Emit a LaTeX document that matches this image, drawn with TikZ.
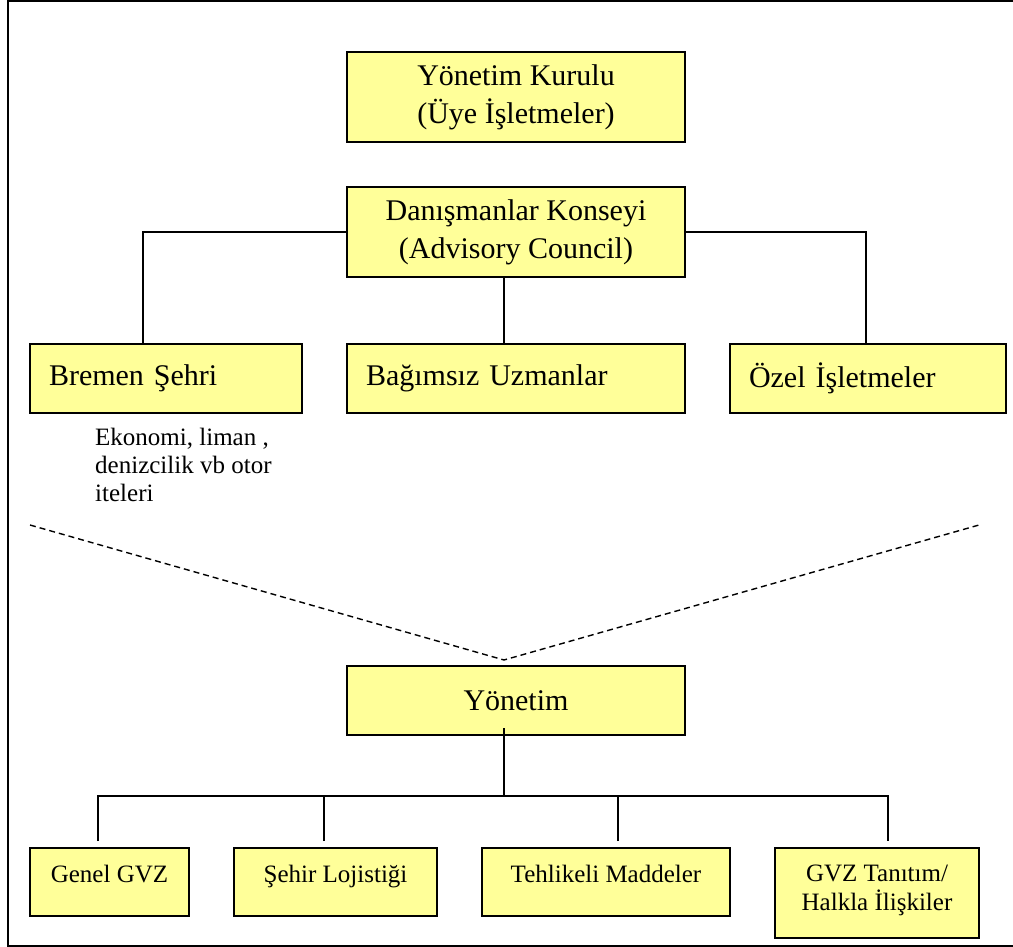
\documentclass[tikz,border=0pt]{standalone}
\usepackage{fontspec}
\setmainfont{Liberation Serif}
\usetikzlibrary{calc}
\definecolor{boxfill}{RGB}{255,255,153}
\begin{document}
\begin{tikzpicture}[x=1pt,y=-1pt,
  box/.style={draw, line width=2.2pt, fill=boxfill, anchor=north west, inner sep=0pt, outer sep=0pt},
  big/.style={font=\fontsize{30}{38}\selectfont},
  small/.style={font=\fontsize{25}{29}\selectfont},
  caption/.style={anchor=north, inner sep=0pt, align=center, small},
  wire/.style={line width=1.4pt},
]
\useasboundingbox (0,0) rectangle (1013,947);

% outer frame
\draw[line width=1.6pt] (1013,1) -- (8,1) -- (8,946) -- (1013,946);

% upper level
\node[box, big, align=center, minimum width=338pt, minimum height=90pt] (kurul) at (347,52) {Yönetim Kurulu\\(Üye İşletmeler)};
\node[box, big, align=center, minimum width=338pt, minimum height=90pt] (konsey) at (347,187) {Danışmanlar Konseyi\\(Advisory Council)};

\node[box, big, align=left, text width=234pt, inner xsep=19pt, minimum height=69pt] (bremen) at (30,344) {Bremen Şehri};
\node[box, big, align=left, text width=300pt, inner xsep=19pt, minimum height=69pt] (uzman) at (347,344) {Bağımsız Uzmanlar};
\node[box, big, align=left, text width=238pt, inner xsep=19pt, minimum height=69pt] (ozel) at (730,344) {Özel İşletmeler};

\node[anchor=north west, inner sep=0pt, align=left, font=\fontsize{25}{28}\selectfont] (note) at (95,428) {Ekonomi, liman ,\\denizcilik vb otor\\iteleri};

\coordinate (lx) at (143,0);
\coordinate (rx) at (866,0);
\coordinate (mx) at (504,0);
\draw[wire] (konsey.west) -| (bremen.north -| lx);
\draw[wire] (konsey.east) -| (ozel.north -| rx);
\draw[wire] (konsey.south -| mx) -- (uzman.north -| mx);

% dashed funnel
\coordinate (vl) at (30,525);
\coordinate (vtip) at (504,660);
\coordinate (vr) at (979,525);
\draw[wire, dash pattern=on 6pt off 4pt] (vl) -- (vtip) -- (vr);

% management level
\node[box, big, minimum width=338pt, minimum height=69pt] (yon) at (347,666) {Yönetim};

\node[box, minimum width=159pt, minimum height=68pt] (genel) at (30,848) {};
\node[caption] (genelT) at ($(genel.north)+(0,17)$) {Genel GVZ};
\node[box, minimum width=203pt, minimum height=68pt] (sehir) at (234,848) {};
\node[caption] (sehirT) at ($(sehir.north)+(0,17)$) {Şehir Lojistiği};
\node[box, minimum width=248pt, minimum height=68pt] (tehl) at (482,848) {};
\node[caption] (tehlT) at ($(tehl.north)+(0,17)$) {Tehlikeli Maddeler};
\node[box, minimum width=204pt, minimum height=90pt] (gvz) at (775,848) {};
\node[caption] (gvzT) at ($(gvz.north)+(0,17)$) {GVZ Tanıtım/\\Halkla İlişkiler};

\coordinate (hub) at (504,796);
\coordinate (d1) at (98,841);
\coordinate (d2) at (324,841);
\coordinate (d3) at (618,841);
\coordinate (d4) at (888,841);
\draw[wire] ($(yon.south -| mx)+(0,-7)$) -- (hub);
\draw[wire] (d1) -- (d1 |- hub) -- (d4 |- hub) -- (d4);
\draw[wire] (d2) -- (d2 |- hub);
\draw[wire] (d3) -- (d3 |- hub);
\end{tikzpicture}
\end{document}
